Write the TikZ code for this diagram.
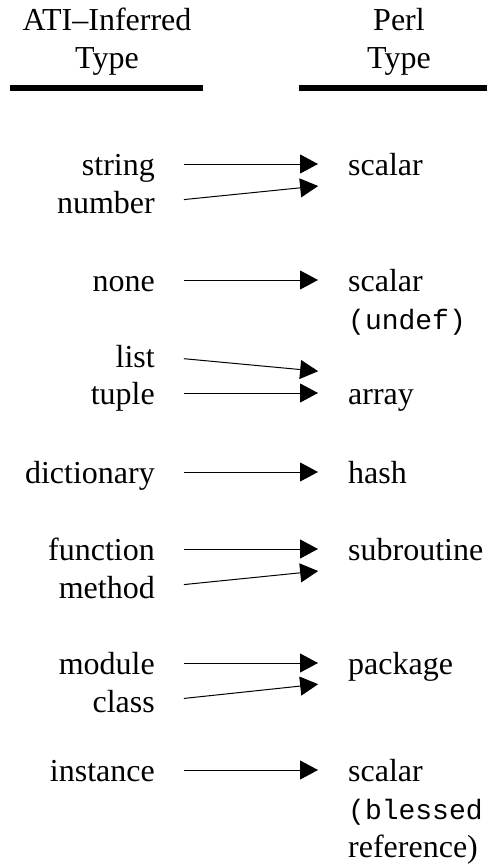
\documentclass[tikz,border=0pt]{standalone}
\usepackage{fontspec}
\setmainfont{Liberation Serif}
\setmonofont{Liberation Mono}
\usetikzlibrary{arrows.meta}
\tikzset{
	lbl/.style={anchor=east, inner sep=0pt, text height=22pt, text depth=0pt, font=\fontsize{32}{38.4}\selectfont},
	rlbl/.style={lbl, anchor=west},
	rcode/.style={rlbl, font=\fontsize{28}{38.4}\selectfont\ttfamily},
	head/.style={anchor=base, inner sep=0pt, font=\fontsize{32}{38.4}\selectfont},
	headrule/.style={line width=6pt},
	conn/.style={line width=1pt, -{Triangle[length=18pt,width=19pt]}, shorten <=29pt, shorten >=30pt}
}
\begin{document}
\begin{tikzpicture}[x=1pt, y=-1pt]
			%%%%% HEADERS %%%%%
			\useasboundingbox (0,0) rectangle (487,865);
			\node[head] (atiA) at (107,30) {ATI--Inferred};
			\node[head] (atiB) at (107,68.4) {Type};
			\node[head] (perlA) at (399,30) {Perl};
			\node[head] (perlB) at (399,68.4) {Type};
			\draw[headrule] (10,88) -- (203,88);
			\draw[headrule] (299,88) -- (487,88);
			
			%%%%% LEFT COLUMN %%%%%
			\node[lbl] (string) at (155,164) {string};
			\node[lbl] (number) at (155,202.5) {number};
			\node[lbl] (none) at (155,280) {none};
			\node[lbl] (list) at (155,356) {list};
			\node[lbl] (tuple) at (155,393) {tuple};
			\node[lbl] (dictionary) at (155,472) {dictionary};
			\node[lbl] (function) at (155,549) {function};
			\node[lbl] (method) at (155,587.5) {method};
			\node[lbl] (module) at (155,663) {module};
			\node[lbl] (class) at (155,701.5) {class};
			\node[lbl] (instance) at (155,770) {instance};
			
			%%%%% RIGHT COLUMN %%%%%
			\node[rlbl] (scalarA) at (348,164) {scalar};
			\node[rlbl] (scalarB) at (348,280) {scalar};
			\node[rcode] (undef) at (348,318.4) {(undef)};
			\node[rlbl] (array) at (348,393) {array};
			\node[rlbl] (hash) at (348,472) {hash};
			\node[rlbl] (subroutine) at (348,549) {subroutine};
			\node[rlbl] (package) at (348,663) {package};
			\node[rlbl] (scalarC) at (348,770) {scalar};
			\node[rcode] (blessed) at (348,808.4) {(blessed};
			\node[rlbl] (reference) at (348,846.8) {reference)};
			
			%%%%% ARROWS %%%%%
			\draw[conn] (string) -- (scalarA);
			\draw[conn] (number.east) -- ([yshift=-19pt]scalarA.west);
			\draw[conn] (none) -- (scalarB);
			\draw[conn] (list.east) -- ([yshift=19pt]array.west);
			\draw[conn] (tuple) -- (array);
			\draw[conn] (dictionary) -- (hash);
			\draw[conn] (function) -- (subroutine);
			\draw[conn] (method.east) -- ([yshift=-19pt]subroutine.west);
			\draw[conn] (module) -- (package);
			\draw[conn] (class.east) -- ([yshift=-18pt]package.west);
			\draw[conn] (instance) -- (scalarC);
		\end{tikzpicture}
\end{document}
